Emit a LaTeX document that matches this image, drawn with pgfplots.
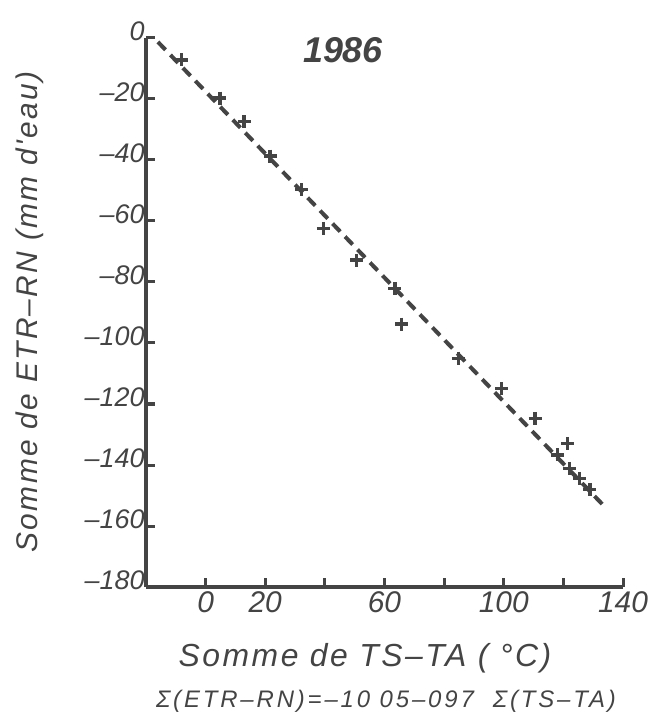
\documentclass[border=0pt]{standalone}
\usepackage{pgfplots}
\pgfplotsset{compat=1.18}
\usepackage{fontspec}
\setmainfont{Liberation Sans}
\newfontfamily\labfont[LetterSpace=8]{Liberation Sans}
\newfontfamily\eqfont[LetterSpace=12]{Liberation Sans}
\definecolor{ink}{HTML}{444444}

% cumulated sums, 1986
\pgfplotstableread{
x y
-8.0 -7.2
4.8 -19.7
12.9 -27.5
21.6 -38.7
32.2 -49.8
39.5 -62.4
50.7 -72.8
63.5 -82.1
65.8 -93.8
84.8 -105.0
99.3 -114.9
110.5 -124.7
121.5 -132.9
118.0 -136.7
122.0 -141.1
125.4 -144.4
128.9 -148.0
}\points

\begin{document}
\begin{tikzpicture}
\begin{axis}[
  scale only axis, width=477bp, height=549bp,
  xmin=-20, xmax=140, ymin=-180, ymax=0,
  axis lines=left,
  axis line style={ink, line width=3.5bp, -},
  tick align=inside, major tick length=9bp,
  tick style={ink, line width=3bp},
  xtick={0,20,...,140}, xticklabels={0,20,,60,,100,,140},
  ytick={-180,-160,...,0},
  yticklabels={–180,–160,–140,–120,–100,–80,–60,–40,–20,0},
  xticklabel style={font=\fontsize{30}{32}\selectfont\itshape, text=ink, yshift=-1bp},
  yticklabel style={font=\fontsize{27}{29}\selectfont\itshape, text=ink, yshift=7bp, xshift=2bp},
  xlabel={\labfont\itshape Somme de TS–TA ( °C)},
  ylabel={\labfont\itshape Somme de ETR–RN (mm d'eau)},
  xlabel style={at={(axis description cs:0.459,-0.129)}, anchor=center,
    font=\fontsize{32}{34}\selectfont, text=ink},
  ylabel style={at={(axis description cs:-0.243,0.501)}, anchor=center, rotate=0,
    font=\fontsize{30}{32}\selectfont, text=ink},
  clip=false,
]
\addplot[ink, line width=4bp, dash pattern=on 11bp off 7bp]
  coordinates {(-16,-1.3) (133.3,-153.1)};
\addplot[only marks, mark=+, mark size=6.5bp, ink, mark options={line width=3.2bp}]
  table[x=x, y=y] {\points};
\node[text=ink, font=\fontsize{36}{38}\selectfont\bfseries\itshape]
  at (axis description cs:0.413,0.978) {1986};
\node[text=ink, font=\fontsize{24}{26}\selectfont\eqfont\itshape]
  at (axis description cs:0.503,-0.208) {Σ(ETR–RN)=–10 05–097\ \ Σ(TS–TA)};
\end{axis}
\pgfresetboundingbox
\path (-146bp,-130bp) rectangle (510bp,587bp);
\end{tikzpicture}
\end{document}
